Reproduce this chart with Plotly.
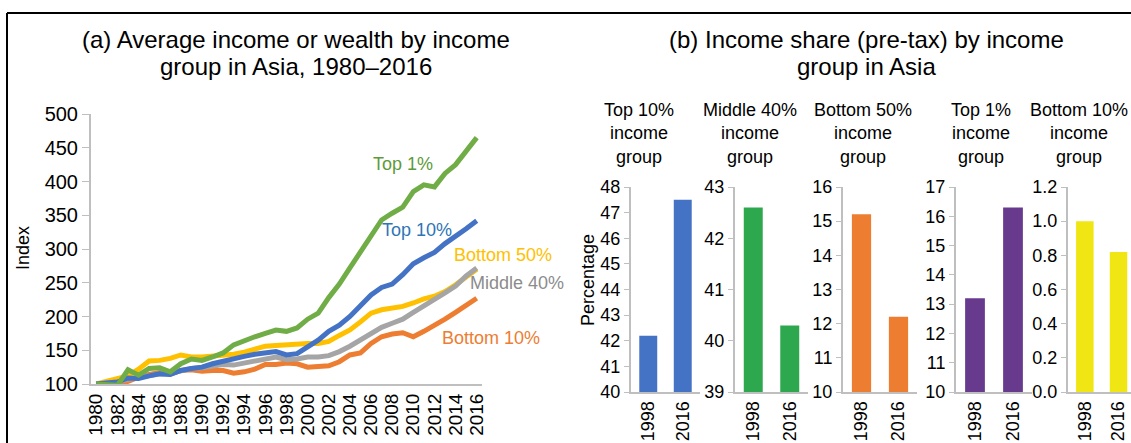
import plotly.graph_objects as go

W, H = 1131, 443
FONT = 'Liberation Sans, Arial, sans-serif'

# (a) index, 1980 = 100
years = list(range(1980, 2017))
bottom10 = [100, 100, 99, 104, 110, 114, 117, 115, 120, 121, 119, 120, 120, 116, 118, 122, 129, 129, 131, 130,
            125, 126, 127, 133, 143, 146, 160, 170, 174, 176, 170, 178, 186, 196, 206, 217, 227]
bottom50 = [100, 104, 108, 112, 122, 134, 135, 138, 143, 140, 140, 141, 142, 144, 147, 151, 156, 157, 158, 160,
            160, 160, 163, 172, 180, 192, 205, 210, 213, 215, 220, 226, 230, 237, 247, 258, 270]
middle40 = [100, 101, 103, 107, 110, 113, 115, 116, 120, 123, 124, 126, 129, 128, 131, 134, 137, 140, 136, 137,
            140, 140, 142, 148, 156, 165, 176, 184, 190, 196, 206, 215, 225, 235, 245, 260, 272]
top10 = [100, 101, 103, 109, 108, 112, 115, 114, 120, 123, 125, 130, 134, 138, 141, 144, 146, 148, 143, 145,
         155, 165, 178, 187, 200, 215, 232, 243, 248, 262, 278, 287, 295, 308, 318, 330, 342]
top1 = [100, 99, 98, 121, 113, 123, 124, 118, 130, 137, 135, 140, 146, 158, 165, 170, 175, 180, 178, 183,
        196, 205, 228, 248, 272, 295, 318, 343, 353, 362, 385, 395, 392, 412, 425, 445, 465]

# (b) income share, %
share_years = ['1998', '2016']
share_top10 = [42.2, 47.5]
share_middle40 = [42.6, 40.3]
share_bottom50 = [15.2, 12.2]
share_top1 = [13.2, 16.3]
share_bottom10 = [1.0, 0.82]


def px_x(p):
    return p / W


def px_y(p):
    return 1 - p / H


def note(text, x, y, size=18, color='#000000', **kw):
    # text centred on a pixel position of the page
    return dict(text=text, x=px_x(x), y=px_y(y), xref='paper', yref='paper', showarrow=False,
                xanchor='center', yanchor='middle',
                font=dict(size=size, color=color, family=FONT), **kw)


fig = go.Figure()

lines = [
    ('Bottom 10%', bottom10, '#ED7D31'),
    ('Bottom 50%', bottom50, '#FFC000'),
    ('Middle 40%', middle40, '#A5A5A5'),
    ('Top 10%', top10, '#4472C4'),
    ('Top 1%', top1, '#70AD47'),
]
for name, vals, col in lines:
    fig.add_trace(go.Scatter(x=years, y=vals, mode='lines', name=name,
                             line=dict(color=col, width=5), xaxis='x', yaxis='y'))

# line labels
labels = [
    ('Top 1%', 403, 164, '#5E9A3A'),
    ('Top 10%', 417, 230, '#2E75B6'),
    ('Bottom 50%', 503, 255, '#FFC000'),
    ('Middle 40%', 517, 283, '#8C8C8C'),
    ('Bottom 10%', 491, 338, '#ED7D31'),
]
annotations = [note(txt, lx, ly, color=col) for txt, lx, ly, col in labels]

# bar panels
panels = [
    ('Top 10%', share_top10, '#4472C4', [40, 48], 1, None, (631, 700), 639, [-0.5, 1.5]),
    ('Middle 40%', share_middle40, '#2EA84F', [39, 43], 1, None, (735, 808), 750, [-0.5, 1.5]),
    ('Bottom 50%', share_bottom50, '#ED7D31', [10, 16], 1, None, (843, 917), 863, [-0.5, 1.5]),
    ('Top 1%', share_top1, '#673A8E', [10, 17], 1, None, (956, 1032), 981, [-0.5, 1.5]),
    ('Bottom 10%', share_bottom10, '#F0E614', [0, 1.2], 0.2, '.1f', (1068, 1131), 1079, [-0.5, 1.37]),
]

axis_col = '#BFBFBF'
tick_font = dict(size=18, color='#000000', family=FONT)

layout = dict(
    width=W, height=H,
    margin=dict(l=0, r=0, t=0, b=0, autoexpand=False),
    paper_bgcolor='white', plot_bgcolor='white',
    showlegend=False,
    font=dict(family=FONT, color='#000000'),
    xaxis=dict(domain=[px_x(91), px_x(482)], range=[1979.5, 2016.5], tickmode='array',
               tickvals=years[::2], tickangle=-90, showline=True, linecolor=axis_col, linewidth=2,
               showgrid=False, zeroline=False, ticks='', automargin=False,
               tickfont=dict(size=19, color='#000', family=FONT)),
    yaxis=dict(domain=[px_y(384), px_y(114)], range=[100, 500], dtick=50, showline=True,
               linecolor=axis_col, linewidth=2, showgrid=False, zeroline=False, ticks='outside',
               ticklen=7, tickcolor=axis_col, automargin=False,
               tickfont=dict(size=20, color='#000', family=FONT)),
)
annotations.append(note('Index', 23, 248, textangle=-90))

for i, (head, vals, col, yr, dt, fmt, (x0, x1), hx, xr) in enumerate(panels):
    n = i + 2
    xa, ya = 'x%d' % n, 'y%d' % n
    fig.add_trace(go.Bar(x=share_years, y=vals, marker=dict(color=col, line=dict(width=0)),
                         width=0.52, xaxis=xa, yaxis=ya))
    layout['xaxis%d' % n] = dict(domain=[px_x(x0), px_x(x1)], anchor=ya, type='category', range=xr,
                                 tickangle=-90, showline=True, linecolor=axis_col, linewidth=2,
                                 showgrid=False, ticks='', automargin=False, tickfont=tick_font)
    ydict = dict(domain=[px_y(392), px_y(187)], anchor=xa, range=yr, dtick=dt, showline=True,
                 linecolor=axis_col, linewidth=2, showgrid=False, zeroline=False, ticks='outside',
                 ticklen=5, tickcolor=axis_col, automargin=False, tickfont=tick_font)
    if fmt:
        ydict['tickformat'] = fmt
    layout['yaxis%d' % n] = ydict
    annotations.append(note(head + '<br>income<br>group', hx, 134, align='center'))

annotations.append(note('Percentage', 588, 280, textangle=-90))

# panel titles, one line each
annotations.append(note('(a) Average income or wealth by income', 296, 40, size=24))
annotations.append(note('group in Asia, 1980\u20132016', 296, 67, size=24))
annotations.append(note('(b) Income share (pre-tax) by income', 866, 40, size=24))
annotations.append(note('group in Asia', 866, 67, size=24))

layout['annotations'] = annotations

# frame round the figure
layout['shapes'] = [
    dict(type='line', xref='paper', yref='paper', x0=px_x(7), x1=1.01, y0=px_y(13), y1=px_y(13),
         line=dict(color='black', width=2)),
    dict(type='line', xref='paper', yref='paper', x0=px_x(7), x1=px_x(7), y0=px_y(13), y1=-0.01,
         line=dict(color='black', width=2)),
]

fig.update_layout(layout)
fig.write_html('out.html', config={'displayModeBar': False},
               post_script="document.body.style.margin='0';document.body.style.overflow='hidden';")
